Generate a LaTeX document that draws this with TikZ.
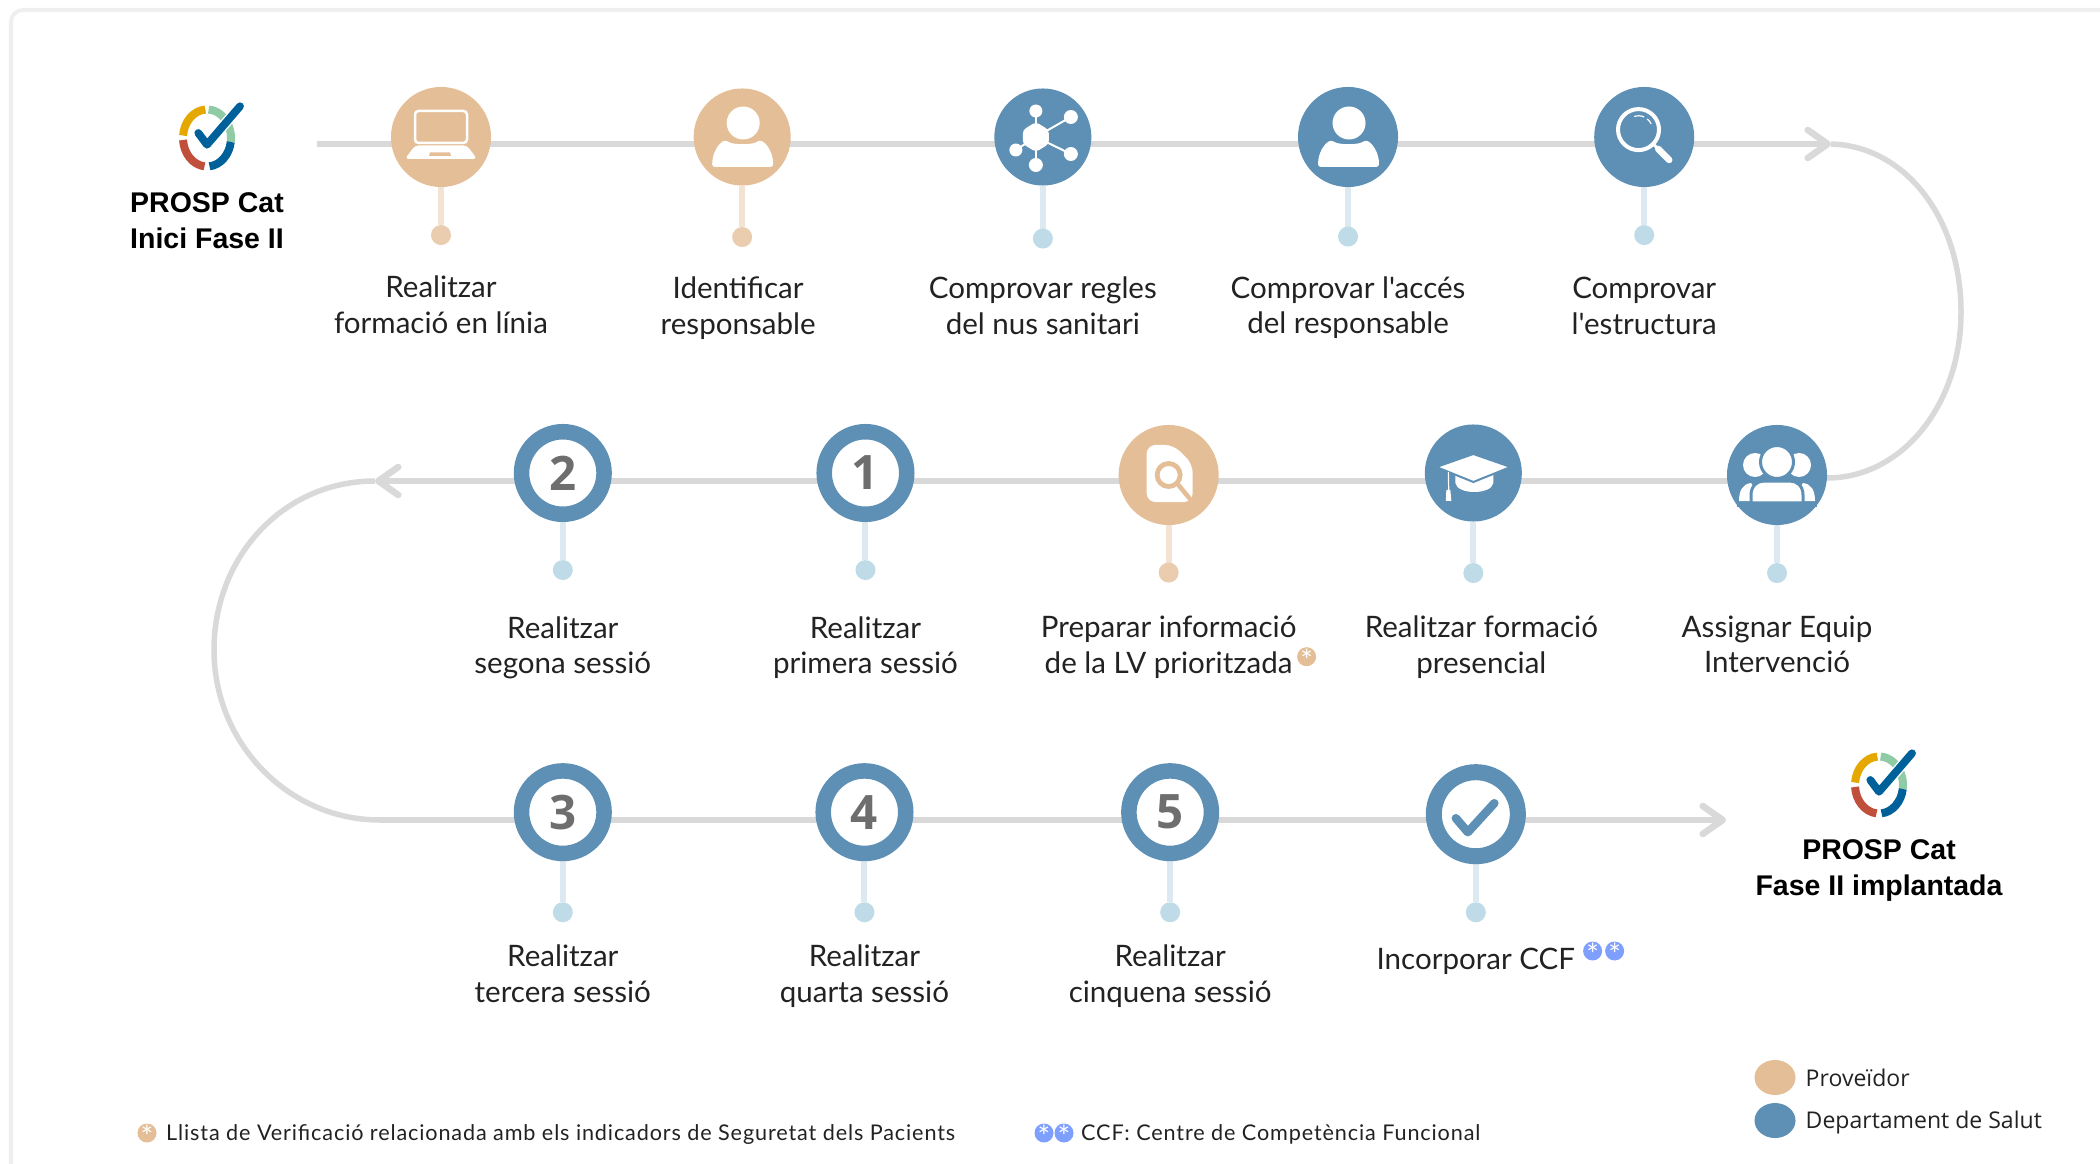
\documentclass[tikz,border=0pt]{standalone}
\usepackage{fontspec}
\usepackage{tikz}
\pgfdeclarelayer{bg}
\pgfsetlayers{bg,main}
\usetikzlibrary{arrows.meta,positioning,shapes.geometric,calc}

\newfontfamily\labelfont{Lato}
\newfontfamily\titlefont{Liberation Sans}
\newfontfamily\legendfont{Open Sans}
\newfontfamily\notefont[LetterSpace=4]{Lato}
\newcommand{\starmark}{\raisebox{-.42em}[0pt][0pt]{\labelfont\fontsize{8.5}{8.5}\selectfont *}}

\definecolor{provtan}{HTML}{E4BE96}
\definecolor{deptblue}{HTML}{5D90B4}
\definecolor{trackgray}{HTML}{D9D9D9}
\definecolor{stemtan}{HTML}{F3E3D3}
\definecolor{dottan}{HTML}{E9CDAE}
\definecolor{stemblue}{HTML}{DCE9F1}
\definecolor{dotblue}{HTML}{BFDBE8}
\definecolor{markblue}{HTML}{7F9FFF}
\definecolor{framegray}{HTML}{EFEFEF}
\definecolor{numgray}{HTML}{6E6E6E}
\definecolor{textdark}{HTML}{222222}
\definecolor{logoyellow}{HTML}{E5A800}
\definecolor{logogreen}{HTML}{8FCBA5}
\definecolor{logoblue}{HTML}{00609A}
\definecolor{logored}{HTML}{C0503C}

\tikzset{
  disc/.style={circle, inner sep=0pt, outer sep=0pt, minimum size=1cm},
  disctan/.style={disc, fill=provtan},
  discblue/.style={disc, fill=deptblue},
  ring/.style={circle, inner sep=0pt, fill=white, draw=deptblue, line width=.155cm, minimum size=.825cm,
    text=numgray, font=\legendfont\bfseries\fontsize{13.5}{14}\selectfont},
  dottanb/.style={circle, inner sep=0pt, outer sep=0pt, minimum size=.2cm, fill=dottan},
  dotblueb/.style={circle, inner sep=0pt, outer sep=0pt, minimum size=.2cm, fill=dotblue},
  steptext/.style={align=center, inner sep=0pt, text=textdark, font=\labelfont\fontsize{8.4}{10.1}\selectfont},
  bigtitle/.style={align=center, inner sep=0pt, text=black, font=\titlefont\bfseries\fontsize{8.1}{10.2}\selectfont},
  legendtan/.style={ellipse, inner sep=0pt, outer sep=0pt, minimum width=.41cm, minimum height=.35cm, fill=provtan},
  legendblue/.style={legendtan, fill=deptblue},
  legendtext/.style={inner sep=0pt, text=textdark, font=\legendfont\fontsize{6.55}{7}\selectfont},
  notetext/.style={inner sep=0pt, text=textdark, font=\notefont\fontsize{6.15}{7}\selectfont},
  marktan/.style={circle, inner sep=0pt, outer sep=0pt, minimum size=.19cm, fill=provtan, text=white},
  markbluen/.style={marktan, fill=markblue},
  track/.style={draw=trackgray, line width=.066cm},
  trackhead/.style={track, -{Straight Barb[length=.2cm, width=.28cm, round]}},
  trackarc/.style={draw=trackgray, line width=.055cm},
  stemtanl/.style={draw=stemtan, line width=.06cm},
  stembluel/.style={draw=stemblue, line width=.06cm},
  pics/logo/.style={code={
    \draw[line width=.08cm, draw=logoyellow] (185:24 and 28.5) arc[start angle=185, end angle=266, x radius=24, y radius=28.5];
    \draw[line width=.08cm, draw=logogreen] (274:24 and 28.5) arc[start angle=274, end angle=368, x radius=24, y radius=28.5];
    \draw[line width=.08cm, draw=logoblue] (8:24 and 28.5) arc[start angle=8, end angle=84, x radius=24, y radius=28.5];
    \draw[line width=.08cm, draw=logored] (96:24 and 28.5) arc[start angle=96, end angle=176, x radius=24, y radius=28.5];
    \draw[line width=.105cm, draw=white] (-8.7,-5) -- (0,6.7) -- (33,-31.7);
    \draw[line width=.078cm, draw=logoblue, line cap=round, line join=round] (-8.7,-5) -- (0,6.7) -- (33,-31.7);
  }},
  pics/laptop/.style={code={
    \draw[draw=white, line width=.025cm, rounded corners=1] (-26,-26) rectangle (26,6);
    \fill[white, rounded corners=1] (-26,8.5) -- (26,8.5) -- (36,22) -- (-36,22) -- cycle;
    \fill[provtan] (-11,15.5) -- (9,15.5) -- (10,19) -- (-12,19) -- cycle;
  }},
  pics/person/.style={code={
    \fill[white] (1,-14) circle[radius=16.5];
    \fill[white, rounded corners=.8] (-30,30) .. controls (-30,15) and (-23,6) .. (-16,3) .. controls (-10,8) and (11,8) .. (17,3) .. controls (24,6) and (31,15) .. (31,30) -- cycle;
  }},
  pics/network/.style={code={
    \draw[draw=white, line width=.02cm] (-7,-26) -- (-7,28);
    \draw[draw=white, line width=.02cm] (-27,13) -- (-7,0) -- (28,-20);
    \draw[draw=white, line width=.02cm] (-7,0) -- (28,17);
    \fill[white, rounded corners=1] (-7,-15) -- (6,-7) -- (6,7) -- (-7,15) -- (-20,7) -- (-20,-7) -- cycle;
    \fill[white] (-7,-26) circle[radius=6.5];
    \fill[white] (28,-20) circle[radius=7];
    \fill[white] (28,17) circle[radius=7];
    \fill[white] (-7,28) circle[radius=7];
    \fill[white] (-27,13) circle[radius=6.5];
  }},
  pics/lens/.style={code={
    \draw[draw=white, line width=.04cm] (-5.7,-7.4) circle[radius=20.5];
    \draw[draw=white, line width=.03cm] (10,8) -- (14,12);
    \draw[draw=white, line width=.065cm, line cap=round] (14,12) -- (25,23);
    \draw[draw=white, line width=.012cm] (-10,-20.5) .. controls (-7,-21.5) and (-3,-21.5) .. (0,-20);
    \draw[draw=white, line width=.012cm] (3,-18) .. controls (5,-16.5) and (6,-15) .. (7,-13);
  }},
  pics/team/.style={code={
    \fill[white] (-22,-10) circle[radius=12];
    \fill[white] (22,-10) circle[radius=12];
    \fill[white] (-38,26) .. controls (-38,15) and (-34,9) .. (-26,8) -- (-14,26) -- cycle;
    \fill[white] (38,26) .. controls (38,15) and (34,9) .. (26,8) -- (14,26) -- cycle;
    \draw[draw=deptblue, fill=white, line width=.03cm] (0,-13) circle[radius=16.5];
    \draw[draw=deptblue, fill=white, line width=.03cm] (-26,28) -- (-26,20) .. controls (-26,11) and (-20,6) .. (-13,6) -- (13,6) .. controls (20,6) and (26,11) .. (26,20) -- (26,28) -- cycle;
    \fill[deptblue] (-40,27) rectangle (40,32);
  }},
  pics/gradcap/.style={code={
    \fill[white] (-18,-1) -- (0,6) -- (20,-1) -- (20,10) .. controls (18,22) and (-16,22) .. (-18,10) -- cycle;
    \draw[draw=deptblue, line width=.02cm, fill=white] (-37,-6) -- (0,-19) -- (37.3,-6) -- (0,9) -- cycle;
    \draw[draw=white, line width=.012cm] (-25,-1) -- (-24.5,22);
    \fill[white] (-27,17) -- (-23,17) -- (-22,28) -- (-27.5,28) -- cycle;
  }},
  pics/docsearch/.style={code={
    \fill[white, rounded corners=2.5] (-22,-30) -- (5,-30) -- (24,-11) -- (24,27) -- (-22,27) -- cycle;
    \draw[draw=provtan, line width=.048cm] (0,0) circle[radius=11.5];
    \draw[draw=provtan, line width=.045cm] (9,9) -- (23,26);
  }},
  pics/tick/.style={code={
    \draw[draw=deptblue, line width=.085cm, line cap=round, line join=round] (-20,4) -- (-8,18) -- (18.5,-11);
  }},
}

\begin{document}
\begin{tikzpicture}[x=.01cm, y=-.01cm]
  \useasboundingbox (0,0) rectangle (2100,1164);

  \coordinate (logoA) at (207,138);
  \coordinate (logoB) at (1879,785);
  \coordinate (startA) at (317,144);
  \coordinate (endA) at (1831,144);
  \coordinate (midA) at (1961,312);
  \coordinate (endB) at (375,481);
  \coordinate (midB) at (214,650);
  \coordinate (startC) at (380,820);
  \coordinate (endC) at (1726,820);

  \node[bigtitle] (titleA) [below=.54cm of logoA] {PROSP Cat\\Inici Fase II};
  \node[bigtitle] (titleB) [below=.54cm of logoB] {PROSP Cat\\Fase II implantada};
  \pic at (logoA) {logo};
  \pic at (logoB) {logo};

  \node[disctan] (online) at (441,137) {};
  \node[disctan, minimum size=.97cm] (resp) [right=2.025cm of online] {};
  \node[discblue, minimum size=.97cm] (rules) [right=2.035cm of resp] {};
  \node[discblue] (access) [right=2.065cm of rules] {};
  \node[discblue] (struct) [right=1.96cm of access] {};

  \node[discblue] (team) at (1777,475) {};
  \node[discblue, minimum size=.97cm] (pres) [left=2.05cm of team, yshift=.02cm] {};
  \node[disctan] (lv) [left=2.06cm of pres, yshift=-.02cm] {};
  \node[ring] (ses1) [left=2.04cm of lv, yshift=.02cm] {1};
  \node[ring] (ses2) [left=2.045cm of ses1] {2};

  \node[ring] (ses3) [below=2.41cm of ses2] {3};
  \node[ring] (ses4) [right=2.035cm of ses3] {4};
  \node[ring] (ses5) [right=2.075cm of ses4] {5};
  \node[disc, fill=white, draw=deptblue, line width=.16cm, minimum size=.84cm] (ccf) [right=2.145cm of ses5, yshift=-.02cm] {};

  \pic at (online) {laptop};
  \pic at (resp) {person};
  \pic at (rules) {network};
  \pic at (access) {person};
  \pic at (struct) {lens};
  \pic at (team) {team};
  \pic at (pres) {gradcap};
  \pic at (lv) {docsearch};
  \pic at (ccf) {tick};

  \node[dottanb] (dotOnline) [below=.38cm of online] {};
  \node[dottanb] (dotResp) [below=.415cm of resp] {};
  \node[dotblueb] (dotRules) [below=.43cm of rules] {};
  \node[dotblueb] (dotAccess) [below=.395cm of access] {};
  \node[dotblueb] (dotStruct) [below=.38cm of struct] {};
  \node[dotblueb] (dotTeam) [below=.38cm of team] {};
  \node[dotblueb] (dotPres) [below=.415cm of pres] {};
  \node[dottanb] (dotLv) [below=.375cm of lv] {};
  \node[dotblueb] (dotSes1) [below=.38cm of ses1] {};
  \node[dotblueb] (dotSes2) [below=.38cm of ses2] {};
  \node[dotblueb] (dotSes3) [below=.41cm of ses3] {};
  \node[dotblueb] (dotSes4) [below=.41cm of ses4] {};
  \node[dotblueb] (dotSes5) [below=.41cm of ses5] {};
  \node[dotblueb] (dotCcf) [below=.46cm of ccf] {};

  \node[steptext] (txtOnline) [below=.30cm of dotOnline] {Realitzar\\formació en línia};
  \node[steptext] (txtResp) [below=.29cm of dotResp, xshift=-.04cm] {Identificar\\responsable};
  \node[steptext] (txtRules) [below=.277cm of dotRules] {Comprovar regles\\del nus sanitari};
  \node[steptext] (txtAccess) [below=.29cm of dotAccess] {Comprovar l'accés\\del responsable};
  \node[steptext] (txtStruct) [below=.317cm of dotStruct] {Comprovar\\l'estructura};
  \node[steptext] (txtTeam) [below=.317cm of dotTeam] {Assignar Equip\\Intervenció};
  \node[steptext] (txtPres) [below=.32cm of dotPres, xshift=.08cm] {Realitzar formació\\presencial};
  \node[steptext] (txtLv) [below=.33cm of dotLv] {Preparar informació\\de la LV prioritzada};
  \node[steptext] (txtSes1) [below=.357cm of dotSes1] {Realitzar\\primera sessió};
  \node[steptext] (txtSes2) [below=.357cm of dotSes2] {Realitzar\\segona sessió};
  \node[steptext] (txtSes3) [below=.22cm of dotSes3] {Realitzar\\tercera sessió};
  \node[steptext] (txtSes4) [below=.22cm of dotSes4] {Realitzar\\quarta sessió};
  \node[steptext] (txtSes5) [below=.22cm of dotSes5] {Realitzar\\cinquena sessió};
  \node[steptext] (txtCcf) [below=.25cm of dotCcf] {Incorporar CCF};

  \node[marktan] (markLv) at (1306.6,656.7) {\starmark};
  \node[markbluen] (markCcfA) at (1592.6,951) {\starmark};
  \node[markbluen] (markCcfB) [right=.03cm of markCcfA] {\starmark};

  \node[marktan] (noteMarkA) at (147,1133) {\starmark};
  \node[notetext] (noteA) [right=.09cm of noteMarkA, yshift=-.01cm] {Llista de Verificació relacionada amb els indicadors de Seguretat dels Pacients};
  \node[markbluen] (noteMarkB) at (1044,1133) {\starmark};
  \node[markbluen] (noteMarkC) [right=.01cm of noteMarkB] {\starmark};
  \node[notetext] (noteB) [right=.07cm of noteMarkC, yshift=-.01cm] {CCF: Centre de Competència Funcional};

  \node[legendtan] (legProv) at (1775,1077.5) {};
  \node[legendblue] (legDept) [below=.08cm of legProv] {};
  \node[legendtext] (txtProv) [right=.095cm of legProv] {Proveïdor};
  \node[legendtext] (txtDept) [right=.095cm of legDept, yshift=-.015cm] {Departament de Salut};

  \begin{pgfonlayer}{bg}
    \draw[draw=framegray, line width=.04cm, rounded corners=.12cm] (2100,10) -- (11,10) -- (11,1164);
    \draw[trackhead] (startA) -- (online |- startA) -- (resp |- startA) -- (rules |- startA) -- (access |- startA) -- (struct |- startA) -- (endA);
    \draw[trackarc] (endA) .. controls +(74,2) and +(0,-94) .. (midA) .. controls +(0,94) and +(74,0) .. ($(team.east)+(0,3)$);
    \draw[trackhead] (team |- endB) -- (pres |- endB) -- (lv |- endB) -- (ses1 |- endB) -- (ses2 |- endB) -- (endB);
    \draw[trackarc] (endB) .. controls +(-92,0) and +(0,-93) .. (midB) .. controls +(0,93) and +(-92,0) .. (startC);
    \draw[trackhead] (startC) -- (ses3 |- startC) -- (ses4 |- startC) -- (ses5 |- startC) -- (ccf |- startC) -- (endC);
    \draw[stemtanl] (online) -- (dotOnline);
    \draw[stemtanl] (resp) -- (dotResp);
    \draw[stembluel] (rules) -- (dotRules);
    \draw[stembluel] (access) -- (dotAccess);
    \draw[stembluel] (struct) -- (dotStruct);
    \draw[stembluel] (team) -- (dotTeam);
    \draw[stembluel] (pres) -- (dotPres);
    \draw[stemtanl] (lv) -- (dotLv);
    \draw[stembluel] (ses1) -- (dotSes1);
    \draw[stembluel] (ses2) -- (dotSes2);
    \draw[stembluel] (ses3) -- (dotSes3);
    \draw[stembluel] (ses4) -- (dotSes4);
    \draw[stembluel] (ses5) -- (dotSes5);
    \draw[stembluel] (ccf) -- (dotCcf);
  \end{pgfonlayer}
\end{tikzpicture}
\end{document}
